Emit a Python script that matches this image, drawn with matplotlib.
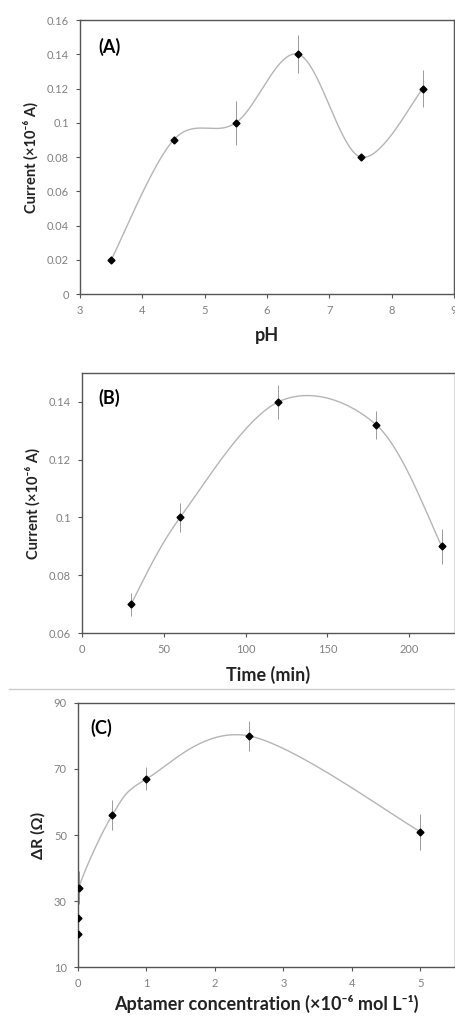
import numpy as np
import matplotlib.pyplot as plt
from matplotlib.lines import Line2D

# panel A: pH
ph = [3.5, 4.5, 5.5, 6.5, 7.5, 8.5]
current_ph = [0.02, 0.09, 0.10, 0.14, 0.08, 0.12]
err_ph = [0.002, 0.002, 0.013, 0.011, 0.002, 0.011]

# panel B: time
time_min = [30, 60, 120, 180, 220]
current_t = [0.07, 0.10, 0.14, 0.132, 0.09]
err_t = [0.004, 0.005, 0.006, 0.005, 0.006]

# panel C: aptamer concentration
conc = [0.0, 0.005, 0.01, 0.5, 1.0, 2.5, 5.0]
dr = [20, 25, 34, 56, 67, 80, 51]
err_dr = [1.5, 2.0, 5.0, 4.5, 3.5, 4.5, 5.5]


def smooth(x, y, n=40):
    # excel-like smoothed line (catmull-rom bezier)
    x = np.asarray(x, float)
    y = np.asarray(y, float)
    px = np.concatenate([[x[0]], x, [x[-1]]])
    py = np.concatenate([[y[0]], y, [y[-1]]])
    xs, ys = [], []
    t = np.linspace(0, 1, n)
    for i in range(1, len(px) - 2):
        p0 = np.array([px[i], py[i]])
        p3 = np.array([px[i + 1], py[i + 1]])
        p1 = p0 + (p3 - np.array([px[i - 1], py[i - 1]])) / 6
        p2 = p3 - (np.array([px[i + 2], py[i + 2]]) - p0) / 6
        b = ((1 - t) ** 3)[:, None] * p0 + (3 * (1 - t) ** 2 * t)[:, None] * p1 \
            + (3 * (1 - t) * t ** 2)[:, None] * p2 + (t ** 3)[:, None] * p3
        xs.extend(b[:, 0])
        ys.extend(b[:, 1])
    return xs, ys


plt.rcParams['font.family'] = ['Lato', 'DejaVu Sans']

fig = plt.figure(figsize=(4.55, 10.27), dpi=100)

xlab_font = dict(fontsize=13, fontweight='bold', color='#222222')
ylab_font = dict(fontsize=10.5, fontweight='bold', color='#222222')
ylab_str = 'Current (×10⁻⁶ A)'


def style(ax):
    for s in ax.spines.values():
        s.set_color('#555555')
        s.set_linewidth(1.0)
    ax.tick_params(direction='out', length=3, width=0.8, color='#555555',
                   labelsize=8, labelcolor='#808080', pad=5)


def draw(ax, x, y, e):
    sx, sy = smooth(x, y)
    ax.plot(sx, sy, color='#b5b5b5', lw=1.0, zorder=1)
    ax.errorbar(x, y, yerr=e, fmt='none', ecolor='#9a9a9a', elinewidth=0.7,
                capsize=0, zorder=2)
    ax.plot(x, y, 'D', color='black', markersize=3.5, zorder=3)


# A
ax1 = fig.add_axes([0.176, 0.7137, 0.822, 0.2668])
draw(ax1, ph, current_ph, err_ph)
ax1.set_xlim(3, 9)
ax1.set_ylim(0, 0.16)
ax1.set_xticks([3, 4, 5, 6, 7, 8, 9])
ax1.set_yticks([0, 0.02, 0.04, 0.06, 0.08, 0.1, 0.12, 0.14, 0.16])
ax1.set_yticklabels(['0', '0.02', '0.04', '0.06', '0.08', '0.1', '0.12', '0.14', '0.16'])
ax1.set_xlabel('pH', labelpad=8, **xlab_font)
ax1.set_ylabel(ylab_str, labelpad=6, **ylab_font)
ax1.text(0.048, 0.90, '(A)', transform=ax1.transAxes, fontsize=13,
         fontweight='bold', va='center')
style(ax1)

# B
ax2 = fig.add_axes([0.180, 0.3836, 0.82, 0.2532])
draw(ax2, time_min, current_t, err_t)
ax2.set_xlim(0, 228)
ax2.set_ylim(0.06, 0.15)
ax2.set_xticks([0, 50, 100, 150, 200])
ax2.set_yticks([0.06, 0.08, 0.1, 0.12, 0.14])
ax2.set_yticklabels(['0.06', '0.08', '0.1', '0.12', '0.14'])
ax2.set_xlabel('Time (min)', labelpad=8, **xlab_font)
ax2.set_ylabel(ylab_str, labelpad=6, **ylab_font)
ax2.text(0.045, 0.905, '(B)', transform=ax2.transAxes, fontsize=13,
         fontweight='bold', va='center')
style(ax2)

# C
ax3 = fig.add_axes([0.1714, 0.0584, 0.828, 0.2571])
draw(ax3, conc, dr, err_dr)
ax3.set_xlim(0, 5.5)
ax3.set_ylim(10, 90)
ax3.set_xticks([0, 1, 2, 3, 4, 5])
ax3.set_yticks([10, 30, 50, 70, 90])
ax3.set_xlabel('Aptamer concentration (×10⁻⁶ mol L⁻¹)', labelpad=4, **xlab_font)
ax3.set_ylabel('ΔR (Ω)', labelpad=6, fontsize=11.5, fontweight='bold', color='#222222')
ax3.text(0.034, 0.905, '(C)', transform=ax3.transAxes, fontsize=13,
         fontweight='bold', va='center')
style(ax3)

# separator between panels B and C
fig.add_artist(Line2D([0.02, 1.0], [1 - 689 / 1027, 1 - 689 / 1027],
                      transform=fig.transFigure, color='#cccccc', lw=1.0))

fig.savefig('out.png', dpi=100)
